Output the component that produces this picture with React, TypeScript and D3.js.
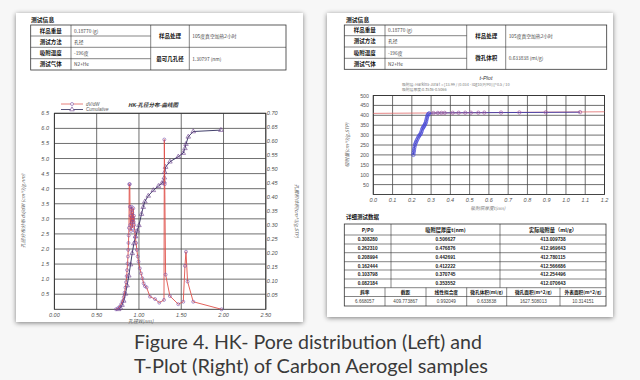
import React from 'react';
import * as d3 from 'd3';

// ---------- data ----------
const dvdwX = [0.728, 0.75, 0.77, 0.79, 0.805, 0.82, 0.83, 0.84, 0.848, 0.855, 0.86, 0.865, 0.87, 0.873, 0.876, 0.879, 0.882, 0.885, 0.892, 0.894, 0.898, 0.902, 0.906, 0.91, 0.913, 0.917, 0.921, 0.925, 0.929, 0.933, 0.937, 0.941, 0.945, 0.95, 0.957, 0.966, 0.975, 0.985, 0.995, 1.01, 1.025, 1.04, 1.055, 1.07, 1.09, 1.13, 1.19, 1.24, 1.296, 1.3, 1.305, 1.315, 1.366, 1.465, 1.524, 1.544, 1.556, 1.575, 1.642, 1.977];
const dvdwY = [0, 0.03, 0.08, 0.17, 0.27, 0.4, 0.55, 0.72, 0.9, 1.1, 1.3, 1.52, 1.75, 1.97, 2.2, 2.45, 2.7, 4.15, 4.15, 3.4, 2.8, 3.1, 2.6, 3.3, 3.4, 2.9, 3.2, 2.7, 3.0, 3.35, 2.9, 3.1, 2.8, 2.6, 2.4, 2.2, 1.97, 1.75, 1.58, 1.36, 1.19, 1.03, 0.86, 0.77, 0.73, 0.42, 0.34, 0.22, 0.31, 5.63, 4.15, 1.15, 0.44, 0.17, 0.25, 1.44, 1.91, 0.92, 0.25, 0.0];
const cumX = [0.76, 0.78, 0.8, 0.82, 0.84, 0.86, 0.88, 0.9, 0.92, 0.94, 0.96, 0.98, 1.0, 1.03, 1.05, 1.07, 1.11, 1.17, 1.23, 1.27, 1.296, 1.3, 1.305, 1.315, 1.366, 1.465, 1.524, 1.544, 1.556, 1.583, 1.642, 1.969];
const cumY = [0.0, 0.005, 0.015, 0.03, 0.055, 0.085, 0.12, 0.16, 0.2, 0.235, 0.26, 0.28, 0.3, 0.34, 0.365, 0.385, 0.405, 0.425, 0.44, 0.45, 0.456, 0.47, 0.49, 0.508, 0.527, 0.545, 0.558, 0.575, 0.59, 0.616, 0.635, 0.64];

const tplotT = [0.208, 0.209, 0.211, 0.212, 0.214, 0.216, 0.219, 0.222, 0.225, 0.229, 0.233, 0.237, 0.241, 0.245, 0.248, 0.251, 0.254, 0.257, 0.26, 0.263, 0.266, 0.269, 0.272, 0.274, 0.276, 0.278, 0.28, 0.282, 0.285, 0.29, 0.312, 0.335, 0.3536, 0.3707, 0.4122, 0.4427, 0.477, 0.5066, 0.545, 0.576, 0.663, 0.758, 0.895, 1.073];
const tplotV = [200, 210, 220, 230, 240, 250, 258, 265, 272, 280, 288, 295, 300, 305, 312, 320, 330, 336, 340, 345, 350, 356, 362, 370, 378, 386, 394, 400, 406, 410, 411.5, 412, 412.07, 412.25, 412.57, 412.78, 412.97, 413.01, 413.2, 413.4, 413.8, 414.2, 414.8, 415.8];
const fitSlope = 6.668057;
const fitIntercept = 409.773867;

const leftXTicks = [0, 0.5, 1, 1.5, 2, 2.5];
const leftYTicks = [0.5, 1, 1.5, 2, 2.5, 3, 3.5, 4, 4.5, 5, 5.5, 6, 6.5];
const rightYTicks = [0.05, 0.1, 0.15, 0.2, 0.25, 0.3, 0.35, 0.4, 0.45, 0.5, 0.55, 0.6, 0.65, 0.7];
const tXTicks = [0, 0.1, 0.2, 0.3, 0.4, 0.5, 0.6, 0.7, 0.8, 0.9, 1.0, 1.1, 1.2];
const tYTicks = [50, 100, 150, 200, 250, 300, 350, 400, 450, 500];

const infoLabels = ['样品重量', '测试方法', '吸附温度', '测试气体'];
const infoValues = ['0.18770 (g)', '孔径', '-196度', 'N2+He'];
const leftSideLabels = ['样品处理', '最可几孔径'];
const leftSideValues = ['105度真空加热2小时', '1.30797 (nm)'];
const rightSideLabels = ['样品处理', '微孔体积'];
const rightSideValues = ['105度真空加热2小时', '0.633838 (ml/g)'];

const detailHeaders = ['P/P0', '吸附层厚度t(nm)', '实际吸附量（ml/g）'];
const pp0 = ['0.308280', '0.262310', '0.208994', '0.162444', '0.103798', '0.082184'];
const tVals = ['0.506627', '0.476876', '0.442691', '0.412222', '0.370745', '0.353552'];
const adsVals = ['413.009738', '412.969643', '412.780115', '412.566686', '412.254496', '412.070643'];
const summaryHeaders = ['斜率', '截距', '线性拟合度', '微孔体积(ml/g)', '微孔面积(m^2/g)', '外表面积(m^2/g)'];
const summaryValues = ['6.668057', '409.773867', '0.992049', '0.633838', '1627.508013', '10.314151'];

const CJK = '"Noto Sans CJK SC", "Liberation Sans", sans-serif';
const SANS = '"Liberation Sans", Arial, sans-serif';

function InfoTable({ cols, rows, sideLabels, sideValues }: any) {
  const els: any[] = [];
  const stroke = '#333';
  els.push(<rect key="o" x={cols[0]} y={rows[0]} width={cols[4] - cols[0]} height={rows[4] - rows[0]} fill="none" stroke={stroke} strokeWidth={0.8} />);
  for (let i = 1; i < 4; i++) {
    els.push(<line key={'h' + i} x1={cols[0]} x2={cols[2]} y1={rows[i]} y2={rows[i]} stroke={stroke} strokeWidth={0.6} />);
  }
  els.push(<line key="hm" x1={cols[2]} x2={cols[4]} y1={rows[2]} y2={rows[2]} stroke={stroke} strokeWidth={0.6} />);
  for (let j = 1; j < 4; j++) {
    els.push(<line key={'v' + j} x1={cols[j]} x2={cols[j]} y1={rows[0]} y2={rows[4]} stroke={stroke} strokeWidth={0.6} />);
  }
  infoLabels.forEach((l, i) => {
    els.push(<text key={'l' + i} x={(cols[0] + cols[1]) / 2} y={(rows[i] + rows[i + 1]) / 2 + 2} textAnchor="middle" fontSize={5.5} fontWeight="bold" fontFamily={CJK} fill="#111">{l}</text>);
    els.push(<text key={'v' + i} x={cols[1] + 3} y={(rows[i] + rows[i + 1]) / 2 + 2} fontSize={4.8} fontFamily={CJK} fill="#444">{infoValues[i]}</text>);
  });
  sideLabels.forEach((l: string, i: number) => {
    const yc = (rows[2 * i] + rows[2 * i + 2]) / 2 + 2;
    els.push(<text key={'sl' + i} x={(cols[2] + cols[3]) / 2} y={yc} textAnchor="middle" fontSize={5.5} fontWeight="bold" fontFamily={CJK} fill="#111">{l}</text>);
    els.push(<text key={'sv' + i} x={cols[3] + 3} y={yc} fontSize={4.8} fontFamily={CJK} fill="#444">{sideValues[i]}</text>);
  });
  return <g>{els}</g>;
}

export default function App() {
  const lx = d3.scaleLinear().domain([0, 2.5]).range([54.4, 265.8]);
  const ly = d3.scaleLinear().domain([0, 6.5]).range([309.3, 113.3]);
  const ry = d3.scaleLinear().domain([0, 0.7]).range([309.3, 113.3]);
  const dvdwLine = d3.line<number>().x((d, i) => lx(dvdwX[i])).y((d) => ly(d))(dvdwY) || '';
  const cumLine = d3.line<number>().x((d, i) => lx(cumX[i])).y((d) => ry(d))(cumY) || '';
  const tri = d3.symbol().type(d3.symbolTriangle).size(9)() || '';

  const tx = d3.scaleLinear().domain([0, 1.2]).range([373.3, 604.5]);
  const ty = d3.scaleLinear().domain([0, 500]).range([194.5, 95.5]);
  const tLine = d3.line<number>().x((d, i) => tx(tplotT[i])).y((d) => ty(d))(tplotV) || '';
  const fitLine = d3.line<number>().x((d) => tx(d)).y((d) => ty(fitIntercept + fitSlope * d))([0, 1.2]) || '';

  const grid = '#4a4a4a';
  const tick = '#555';

  const dCols = [344.3, 391, 500, 606];
  const dRows = [224, 235, 244, 252.7, 261.7, 270, 279, 287.7];
  const sCols = [344.3, 385, 426, 466.7, 506.7, 560, 606];
  const sRows = [287.7, 296.5, 306];

  return (
    <svg width={640} height={380} style={{ position: 'absolute', left: 0, top: 0 }} xmlns="http://www.w3.org/2000/svg">
      <defs>
        <filter id="sh" x="-5%" y="-5%" width="110%" height="110%">
          <feGaussianBlur in="SourceAlpha" stdDeviation="2.5" />
          <feOffset dx="0" dy="1" />
          <feComponentTransfer><feFuncA type="linear" slope="0.5" /></feComponentTransfer>
          <feMerge><feMergeNode /><feMergeNode in="SourceGraphic" /></feMerge>
        </filter>
      </defs>
      <rect x={0} y={0} width={640} height={380} fill="#f7f7f7" />
      <rect x={16} y={13} width={287} height={309} fill="#fff" filter="url(#sh)" />
      <rect x={327} y={13} width={286} height={304} fill="#fff" filter="url(#sh)" />

      {/* ===== LEFT PANEL ===== */}
      <text x={31} y={22} fontSize={5.8} fontWeight="bold" fontFamily={CJK} fill="#111">测试信息</text>
      <InfoTable cols={[30.7, 71, 150.7, 189.3, 286]} rows={[25, 36, 47.3, 58.7, 70]} sideLabels={leftSideLabels} sideValues={leftSideValues} />

      <g>
        {leftYTicks.map((v) => (
          <line key={'gy' + v} x1={lx(0)} x2={lx(2.5)} y1={ly(v)} y2={ly(v)} stroke={grid} strokeWidth={0.8} />
        ))}
        {leftXTicks.map((v) => (
          <line key={'gx' + v} x1={lx(v)} x2={lx(v)} y1={ly(0)} y2={ly(6.5)} stroke={grid} strokeWidth={0.8} />
        ))}
        <rect x={lx(0)} y={ly(6.5)} width={lx(2.5) - lx(0)} height={ly(0) - ly(6.5)} fill="none" stroke="#333" strokeWidth={0.9} />
      </g>
      {leftYTicks.map((v) => (
        <text key={'ly' + v} x={49} y={ly(v) + 2} textAnchor="end" fontSize={5.5} fontStyle="italic" fontFamily={SANS} fill={tick}>{v.toFixed(1)}</text>
      ))}
      {rightYTicks.map((v) => (
        <text key={'ry' + v} x={lx(2.5) + 1} y={ry(v) + 2} fontSize={5.5} fontStyle="italic" fontFamily={SANS} fill={tick}>{v.toFixed(2)}</text>
      ))}
      {leftXTicks.map((v) => (
        <text key={'lx' + v} x={lx(v)} y={317} textAnchor="middle" fontSize={5.5} fontStyle="italic" fontFamily={SANS} fill={tick}>{v.toFixed(2)}</text>
      ))}
      <text x={lx(1.02)} y={323} textAnchor="middle" fontSize={5} fontStyle="italic" fontFamily={CJK} fill="#555">孔径W(nm)</text>
      <text transform="translate(25,211) rotate(-90)" textAnchor="middle" fontSize={4.8} fontStyle="italic" fontFamily={CJK} fill="#666">孔径分布分布 dV/dW (cm^3/g.nm)</text>
      <text transform="translate(295,211) rotate(90)" textAnchor="middle" fontSize={4.8} fontStyle="italic" fontFamily={CJK} fill="#666">孔累积体积(cm^3/g,STP)</text>
      <text x={153} y={107} textAnchor="middle" fontSize={5.5} fontStyle="italic" fontWeight="bold" fontFamily={CJK} fill="#333">HK-孔径分布-曲线图</text>
      <g>
        <line x1={61} x2={83} y1={104} y2={104} stroke="#e0605a" strokeWidth={0.8} />
        <circle cx={72} cy={104} r={1.5} fill="#fff" stroke="#7a50a8" strokeWidth={0.6} />
        <text x={86} y={105.8} fontSize={4.5} fontStyle="italic" fontFamily={SANS} fill="#555">dV/dW</text>
        <line x1={61} x2={83} y1={109.5} y2={109.5} stroke="#2c2a5a" strokeWidth={0.8} />
        <path d={tri} transform="translate(72,109.5)" fill="#fff" stroke="#6a3a8a" strokeWidth={0.6} />
        <text x={86} y={111.3} fontSize={4.5} fontStyle="italic" fontFamily={SANS} fill="#555">Cumulative</text>
      </g>
      <path d={cumLine} fill="none" stroke="#2c2a5a" strokeWidth={0.9} />
      {cumY.map((v, i) => (
        <path key={'ct' + i} d={tri} transform={`translate(${lx(cumX[i])},${ry(v)})`} fill="none" stroke="#6a3a8a" strokeWidth={0.6} />
      ))}
      <path d={dvdwLine} fill="none" stroke="#e0504a" strokeWidth={0.9} />
      {dvdwY.map((v, i) => (
        <circle key={'dc' + i} cx={lx(dvdwX[i])} cy={ly(v)} r={1.5} fill="none" stroke="#7a50a8" strokeWidth={0.6} />
      ))}

      {/* ===== RIGHT PANEL ===== */}
      <text x={346} y={22} fontSize={5.8} fontWeight="bold" fontFamily={CJK} fill="#111">测试信息</text>
      <InfoTable cols={[344.3, 385, 466.7, 505.7, 606.7]} rows={[25, 35.7, 47, 58.3, 69.3]} sideLabels={rightSideLabels} sideValues={rightSideValues} />

      <text x={486} y={80} textAnchor="middle" fontSize={5.5} fontStyle="italic" fontFamily={SANS} fill="#333">t-Plot</text>
      <text x={402} y={85.5} fontSize={3.8} fontFamily={CJK} fill="#777">吸附层: Harkins-Jura t = [13.99 / (0.034 - log10(P/P0))]^0.5 / 10</text>
      <text x={402} y={90.5} fontSize={3.8} fontFamily={CJK} fill="#777">吸附层厚度:0.3536-0.5066</text>

      {tYTicks.map((v) => (
        <line key={'tgy' + v} x1={tx(0)} x2={tx(1.2)} y1={ty(v)} y2={ty(v)} stroke={grid} strokeWidth={0.8} />
      ))}
      {tXTicks.map((v) => (
        <line key={'tgx' + v} x1={tx(v)} x2={tx(v)} y1={ty(0)} y2={ty(500)} stroke={grid} strokeWidth={0.8} />
      ))}
      <rect x={tx(0)} y={ty(500)} width={tx(1.2) - tx(0)} height={ty(0) - ty(500)} fill="none" stroke="#333" strokeWidth={0.9} />
      {tYTicks.map((v) => (
        <text key={'tly' + v} x={369} y={ty(v) + 2} textAnchor="end" fontSize={5.3} fontFamily={SANS} fill={tick}>{v}</text>
      ))}
      {tXTicks.map((v) => (
        <text key={'tlx' + v} x={tx(v)} y={202} textAnchor="middle" fontSize={5.5} fontStyle="italic" fontFamily={SANS} fill={tick}>{v.toFixed(1)}</text>
      ))}
      <text x={488} y={210} textAnchor="middle" fontSize={4.6} fontStyle="italic" fontFamily={CJK} fill="#777">吸附层厚度t(nm)</text>
      <text transform="translate(349,145) rotate(-90)" textAnchor="middle" fontSize={4.8} fontStyle="italic" fontFamily={CJK} fill="#666">吸附量(cm^3/g,STP)</text>

      <path d={fitLine} fill="none" stroke="#e06868" strokeWidth={0.8} />
      <path d={tLine} fill="none" stroke="#3a3aa8" strokeWidth={0.9} />
      {tplotV.map((v, i) => (
        <circle key={'tp' + i} cx={tx(tplotT[i])} cy={ty(v)} r={1.7} fill="none" stroke={tplotT[i] < 0.3 ? '#4a4ad8' : '#a05aa0'} strokeWidth={0.7} />
      ))}

      <text x={346} y={219} fontSize={5.5} fontWeight="bold" fontFamily={CJK} fill="#111">详细测试数据</text>
      <g>
        <rect x={dCols[0]} y={dRows[0]} width={dCols[3] - dCols[0]} height={sRows[2] - dRows[0]} fill="none" stroke="#333" strokeWidth={0.8} />
        {dRows.slice(1).map((r, i) => (
          <line key={'dr' + i} x1={dCols[0]} x2={dCols[3]} y1={r} y2={r} stroke="#333" strokeWidth={0.6} />
        ))}
        <line x1={sCols[0]} x2={sCols[6]} y1={sRows[1]} y2={sRows[1]} stroke="#333" strokeWidth={0.6} />
        {dCols.slice(1, 3).map((c, i) => (
          <line key={'dc' + i} x1={c} x2={c} y1={dRows[0]} y2={dRows[7]} stroke="#333" strokeWidth={0.6} />
        ))}
        {sCols.slice(1, 6).map((c, i) => (
          <line key={'sc' + i} x1={c} x2={c} y1={sRows[0]} y2={sRows[2]} stroke="#333" strokeWidth={0.6} />
        ))}
        {detailHeaders.map((h, i) => (
          <text key={'dh' + i} x={(dCols[i] + dCols[i + 1]) / 2} y={(dRows[0] + dRows[1]) / 2 + 2} textAnchor="middle" fontSize={5.2} fontWeight="bold" fontFamily={CJK} fill="#111">{h}</text>
        ))}
        {pp0.map((p, r) => {
          const yc = (dRows[r + 1] + dRows[r + 2]) / 2 + 1.8;
          return (
            <g key={'row' + r}>
              <text x={(dCols[0] + dCols[1]) / 2} y={yc} textAnchor="middle" fontSize={4.8} fontWeight="bold" fontFamily={SANS} fill="#222">{p}</text>
              <text x={(dCols[1] + dCols[2]) / 2} y={yc} textAnchor="middle" fontSize={4.8} fontWeight="bold" fontFamily={SANS} fill="#222">{tVals[r]}</text>
              <text x={(dCols[2] + dCols[3]) / 2} y={yc} textAnchor="middle" fontSize={4.8} fontWeight="bold" fontFamily={SANS} fill="#222">{adsVals[r]}</text>
            </g>
          );
        })}
        {summaryHeaders.map((h, i) => (
          <text key={'sh' + i} x={(sCols[i] + sCols[i + 1]) / 2} y={(sRows[0] + sRows[1]) / 2 + 1.8} textAnchor="middle" fontSize={4.7} fontWeight="bold" fontFamily={CJK} fill="#111">{h}</text>
        ))}
        {summaryValues.map((v, i) => (
          <text key={'sv' + i} x={(sCols[i] + sCols[i + 1]) / 2} y={(sRows[1] + sRows[2]) / 2 + 1.8} textAnchor="middle" fontSize={4.6} fontFamily={SANS} fill="#444">{v}</text>
        ))}
      </g>

      <text x={134} y={349} fontSize={19} fontFamily='Lato, "Open Sans", sans-serif' fill="#3a3a3a" textLength={348} lengthAdjust="spacingAndGlyphs">Figure 4. HK- Pore distribution (Left) and</text>
      <text x={134} y={373} fontSize={19} fontFamily='Lato, "Open Sans", sans-serif' fill="#3a3a3a" textLength={354} lengthAdjust="spacingAndGlyphs">T-Plot (Right) of Carbon Aerogel samples</text>
    </svg>
  );
}
